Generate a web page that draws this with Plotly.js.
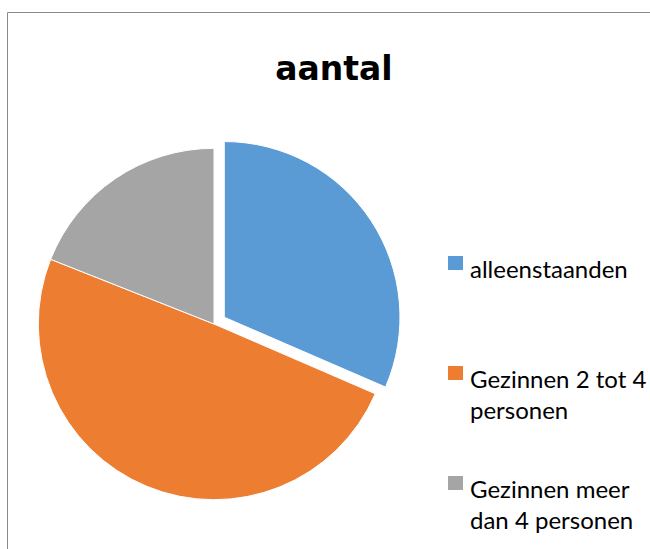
<!DOCTYPE html>
<html>
<head>
<meta charset="utf-8">
<script src="https://cdn.plot.ly/plotly-3.0.1.min.js"></script>
<style>html,body{margin:0;padding:0;background:#fff}#chart{width:650px;height:549px}</style>
</head>
<body>
<div id="chart"></div>
<script>
var categories = ["alleenstaanden", "Gezinnen 2 tot 4 personen", "Gezinnen meer dan 4 personen"];
var legendLabels = ["alleenstaanden", "Gezinnen 2 tot 4<br>personen", "Gezinnen meer<br>dan 4 personen"];
var values = [31.5, 49.5, 19.0];
var colors = ["#5B9BD5", "#ED7D31", "#A5A5A5"];
var pulls = [0.07, 0, 0];

var W = 650, H = 549;
function px(v) { return v / W; }
function py(v) { return 1 - v / H; }

var trace = {
  type: "pie",
  labels: categories,
  values: values,
  sort: false,
  direction: "clockwise",
  rotation: 0,
  pull: pulls,
  textinfo: "none",
  marker: {colors: colors, line: {color: "#ffffff", width: 1}},
  domain: {x: [px(26), px(402)], y: [py(512), py(136)]}
};

// legend drawn as annotations + squares (custom spacing like the original)
var legendCenters = [268, 394, 504];
var markerTops = [256, 366, 476];
var annotations = [], shapes = [];
for (var i = 0; i < categories.length; i++) {
  annotations.push({
    xref: "paper", yref: "paper", x: px(468), y: py(legendCenters[i]),
    xanchor: "left", yanchor: "middle", align: "left", showarrow: false,
    text: legendLabels[i],
    font: {family: "Lato, 'Open Sans', sans-serif", size: 24, color: "#000000"}
  });
  shapes.push({type: "rect", xref: "paper", yref: "paper",
    x0: px(448), x1: px(463), y0: py(markerTops[i] + 14), y1: py(markerTops[i]),
    line: {width: 0}, fillcolor: colors[i]});
}
shapes.push({type: "rect", xref: "paper", yref: "paper", x0: px(7.5), x1: 1.2, y0: -0.2, y1: py(12.5),
  line: {color: "#8a8a8a", width: 1}, fillcolor: "rgba(0,0,0,0)"});

var layout = {
  width: W, height: H,
  margin: {l: 0, r: 0, t: 0, b: 0},
  paper_bgcolor: "#ffffff",
  title: {text: "<b>aantal</b>", x: px(334), xanchor: "center", y: py(68), yanchor: "middle",
          font: {family: "'DejaVu Sans', sans-serif", size: 33, color: "#000000"}},
  showlegend: false,
  annotations: annotations,
  shapes: shapes
};

Plotly.newPlot("chart", [trace], layout, {displayModeBar: false, staticPlot: true});
</script>
</body>
</html>
